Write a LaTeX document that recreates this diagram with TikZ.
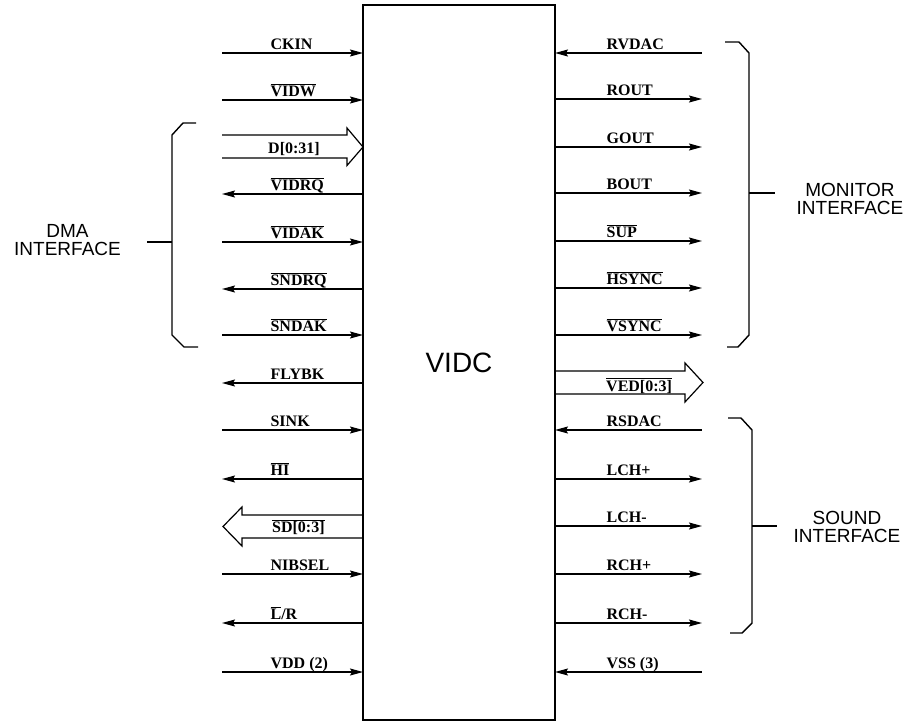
\documentclass[tikz,border=0pt]{standalone}
\usepackage{fontspec}
\setmainfont{Liberation Serif}
\setsansfont{Liberation Sans}
\usetikzlibrary{positioning, arrows.meta}
\newcommand{\ovl}[1]{$\overline{\mbox{#1}}$}

\begin{document}
\begin{tikzpicture}[x=1pt, y=-1pt,
    chip/.style={draw, line width=2.4pt, outer sep=0pt, minimum width=192pt,
      minimum height=715pt, font=\sffamily\fontsize{28}{28}\selectfont},
    fwd/.style={line width=1.2pt, -{Stealth[length=13pt, width=7pt, inset=2pt]}},
    bwd/.style={line width=1.2pt, {Stealth[length=13pt, width=7pt, inset=2pt]}-},
    bus/.style={line width=1.2pt, line join=miter},
    lbl/.style={font=\bfseries\fontsize{16}{16}\selectfont, inner sep=0pt,
      anchor=base west},
    llbl/.style={lbl, at start, xshift=48pt, yshift=4pt},
    rlbl/.style={lbl, at start, xshift=51pt, yshift=4pt},
    brace/.style={line width=1.4pt},
    iface/.style={font=\sffamily\fontsize{19}{18}\selectfont, align=center}
  ]
  \useasboundingbox (0,0) rectangle (906,723);
  \node[chip] (vidc) at (459,362.5) {VIDC};

  % left side pins
  \coordinate (ckin) at (222,53);
  \coordinate (vidw) at (222,100);
  \coordinate (dbus) at (222,147);
  \coordinate (vidrq) at (222,194);
  \coordinate (vidak) at (222,242);
  \coordinate (sndrq) at (222,289);
  \coordinate (sndak) at (222,335);
  \coordinate (flybk) at (222,383);
  \coordinate (sink) at (222,430);
  \coordinate (hi) at (222,479);
  \coordinate (sdbus) at (223,526.5);
  \coordinate (nibsel) at (222,574);
  \coordinate (lr) at (222,623);
  \coordinate (vdd) at (222,672);

  \draw[fwd] (ckin) -- (ckin -| vidc.west) node[llbl] {CKIN};
  \draw[fwd] (vidw) -- (vidw -| vidc.west) node[llbl] {\ovl{VIDW}};
  \draw[bus] (dbus) ++(0,-12) -- ++(125,0) -- ++(0,-7)
    -- (dbus -| vidc.west) -- ++(-16,18.5) -- ++(0,-7.5) -- ++(-125,0);
  \node[lbl] (dlbl) at ([xshift=46pt, yshift=-6pt]dbus) {D[0:31]};
  \draw[bwd] (vidrq) -- (vidrq -| vidc.west) node[llbl] {\ovl{VIDRQ}};
  \draw[fwd] (vidak) -- (vidak -| vidc.west) node[llbl] {\ovl{VIDAK}};
  \draw[bwd] (sndrq) -- (sndrq -| vidc.west) node[llbl] {\ovl{SNDRQ}};
  \draw[fwd] (sndak) -- (sndak -| vidc.west) node[llbl] {\ovl{SNDAK}};
  \draw[bwd] (flybk) -- (flybk -| vidc.west) node[llbl] {FLYBK};
  \draw[fwd] (sink) -- (sink -| vidc.west) node[llbl] {SINK};
  \draw[bwd] (hi) -- (hi -| vidc.west) node[llbl] {\ovl{HI}};
  \draw[bus] (sdbus -| vidc.west) ++(0,-11.5) -- ++(-121,0) -- ++(0,-8)
    -- (sdbus) -- ++(19,19.5) -- ++(0,-8) -- ++(121,0);
  \node[lbl] (sdlbl) at ([xshift=49pt, yshift=-6pt]sdbus) {\ovl{SD[0:3]}};
  \draw[fwd] (nibsel) -- (nibsel -| vidc.west) node[llbl] {NIBSEL};
  \draw[bwd] (lr) -- (lr -| vidc.west) node[llbl] {\ovl{L}/R};
  \draw[fwd] (vdd) -- (vdd -| vidc.west) node[llbl] {VDD (2)};

  % right side pins
  \coordinate (rvdac) at (702,53);
  \coordinate (rout) at (702,99);
  \coordinate (gout) at (702,147);
  \coordinate (bout) at (702,193);
  \coordinate (sup) at (702,241);
  \coordinate (hsync) at (702,288);
  \coordinate (vsync) at (702,335);
  \coordinate (vedbus) at (703,382.5);
  \coordinate (rsdac) at (702,430);
  \coordinate (lchp) at (702,479);
  \coordinate (lchm) at (702,526);
  \coordinate (rchp) at (702,574);
  \coordinate (rchm) at (702,623);
  \coordinate (vss) at (702,672);

  \draw[bwd] (vidc.east |- rvdac) -- (rvdac) node[rlbl] {RVDAC};
  \draw[fwd] (vidc.east |- rout) -- (rout) node[rlbl] {ROUT};
  \draw[fwd] (vidc.east |- gout) -- (gout) node[rlbl] {GOUT};
  \draw[fwd] (vidc.east |- bout) -- (bout) node[rlbl] {BOUT};
  \draw[fwd] (vidc.east |- sup) -- (sup) node[rlbl] {\ovl{SUP}};
  \draw[fwd] (vidc.east |- hsync) -- (hsync) node[rlbl] {\ovl{HSYNC}};
  \draw[fwd] (vidc.east |- vsync) -- (vsync) node[rlbl] {\ovl{VSYNC}};
  \draw[bus] (vidc.east |- vedbus) ++(0,-11.5) -- ++(130,0) -- ++(0,-8)
    -- (vedbus) -- ++(-18,19.5) -- ++(0,-8) -- ++(-130,0);
  \node[lbl] (vedlbl) at ([xshift=-97pt, yshift=-8.5pt]vedbus) {\ovl{VED[0:3]}};
  \draw[bwd] (vidc.east |- rsdac) -- (rsdac) node[rlbl] {RSDAC};
  \draw[fwd] (vidc.east |- lchp) -- (lchp) node[rlbl] {LCH+};
  \draw[fwd] (vidc.east |- lchm) -- (lchm) node[rlbl] {LCH-};
  \draw[fwd] (vidc.east |- rchp) -- (rchp) node[rlbl] {RCH+};
  \draw[fwd] (vidc.east |- rchm) -- (rchm) node[rlbl] {RCH-};
  \draw[bwd] (vidc.east |- vss) -- (vss) node[rlbl] {VSS (3)};

  % interface brackets
  \draw[brace] (196,123) -- (183,123) -- (172,135) -- (172,335) -- (184,347) -- (198,347);
  \coordinate (dmastem) at (172,242);
  \draw[brace] (dmastem) -- ++(-25,0);
  \node[iface] (dma) at (67.5,240.5) {DMA\\INTERFACE};

  \draw[brace] (725,42) -- (739,42) -- (749,53) -- (749,335) -- (738,347) -- (727,347);
  \coordinate (monstem) at (749,193);
  \draw[brace] (monstem) -- ++(26,0);
  \node[iface] (mon) at (850,198.5) {MONITOR\\INTERFACE};

  \draw[brace] (728,418) -- (741,418) -- (752,430) -- (752,623) -- (742,633) -- (730,633);
  \coordinate (sndstem) at (752,526);
  \draw[brace] (sndstem) -- ++(25,0);
  \node[iface] (snd) at (847,526.5) {SOUND\\INTERFACE};
\end{tikzpicture}
\end{document}
